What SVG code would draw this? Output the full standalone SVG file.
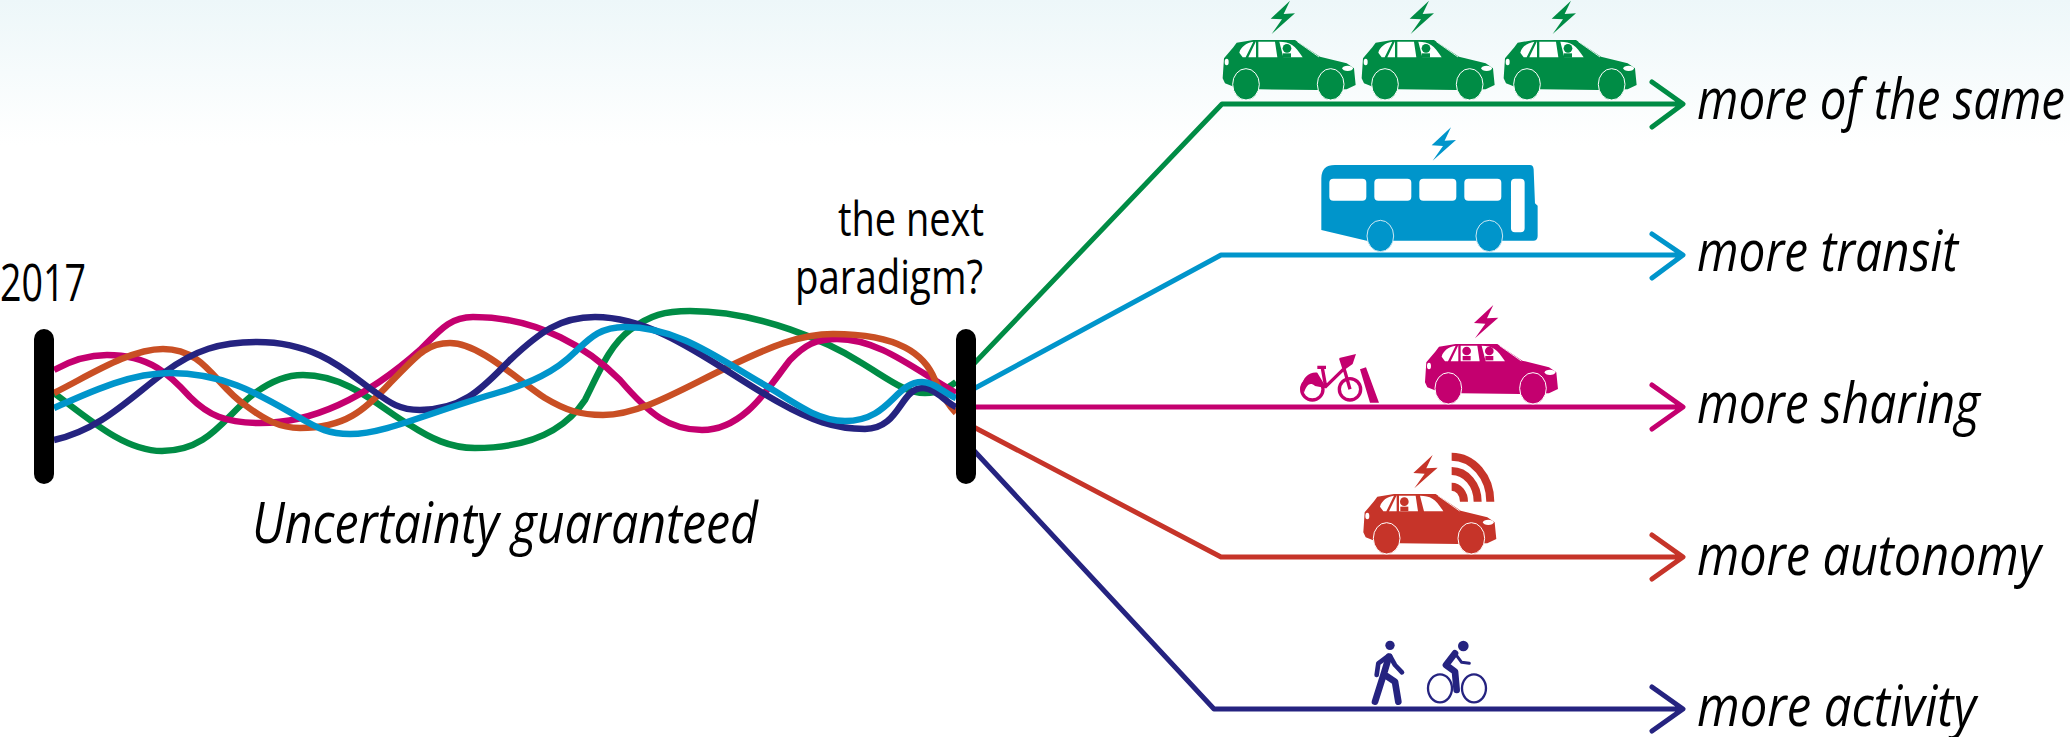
<svg xmlns="http://www.w3.org/2000/svg" width="2070" height="737" viewBox="0 0 2070 737">
<style>
.t{font-family:"Open Sans","Noto Sans","Liberation Sans",sans-serif;font-size:48px;fill:#000;font-weight:400}
.i{font-style:italic;font-size:56px;font-weight:400}
.w{fill:none;stroke-width:6.5;stroke-linejoin:round}
.c{fill:none;stroke-width:5;stroke-linejoin:round;stroke-linecap:round}
.bar{fill:#000}
</style>
<defs>
<linearGradient id="bg" x1="0" y1="0" x2="0" y2="1"><stop offset="0" stop-color="#edf7f9"/><stop offset="1" stop-color="#fff"/></linearGradient>
<path id="bolt" d="M270 2L212 56L246 58L215 102L285 40L251 42Z" fill="currentColor"/>
<g id="car">
<path fill="currentColor" d="M68 235L72 175L100 142L110 128L160 120L285 120L360 170L440 190L462 205L467 255L440 268L352 270L178 268L120 268L75 250Z"/>
<path fill="#fff" d="M118 158C122 140 140 128 160 125L137 172L128 172ZM145 172L168 124L168 172ZM175 125L225 125L232 172L175 172ZM238 125C270 125 285 135 308 172L250 172Z"/>
<path fill="none" stroke="#fff" stroke-width="2.5" d="M292 125L357 171"/>
<ellipse cx="443" cy="205" rx="16" ry="8" fill="#fff"/>
<ellipse cx="80" cy="186" rx="6" ry="10" fill="#fff"/>
<ellipse cx="138" cy="253" rx="40" ry="47" fill="currentColor" stroke="#fff" stroke-width="3"/>
<ellipse cx="392" cy="253" rx="40" ry="47" fill="currentColor" stroke="#fff" stroke-width="3"/>
</g>
<g id="head"><circle cx="0" cy="0" r="13" fill="currentColor"/><rect x="-12" y="15" width="24" height="13" fill="currentColor"/></g>
</defs>
<rect id="background" width="2070" height="145" fill="url(#bg)"/>
<g id="connectors">
<g id="strands">
<path class="w" stroke="#008c45" d="M54 393C90 420 125 451 162 451C210 451 225 415 255 393C270 382 285 375 303 375C350 375 385 412 410 425C430 438 450 448 475 448C530 448 565 430 585 400C600 370 610 345 630 330C650 315 665 311 690 311C760 311 830 343 860 362C890 380 905 393 925 393C940 393 948 388 956 382"/>
<path class="w" stroke="#c4006f" d="M54 370C70 361 88 355 107 355C150 355 170 375 190 397C208 415 225 423 260 423C320 423 375 390 420 350C440 330 450 317 473 317C540 317 590 350 620 380C650 415 670 430 702 430C745 430 770 385 790 360C805 345 815 339 837 339C880 339 915 370 956 393"/>
<path class="w" stroke="#c94f24" d="M54 393C90 375 130 349 163 349C205 349 215 385 245 405C265 420 280 428 300 428C345 428 365 410 390 383C415 358 425 343 450 343C480 343 520 382 545 398C565 410 580 415 603 415C640 415 680 390 730 366C770 347 800 334 833 334C900 334 925 355 935 380C942 395 948 405 956 413"/>
<path class="w" stroke="#252380" d="M54 440C100 430 130 398 165 372C195 350 220 342 257 342C320 342 350 375 375 392C390 403 400 410 420 410C465 410 485 385 510 360C540 332 560 317 595 317C660 317 720 370 780 403C810 420 835 429 865 429C900 429 900 388 923 388C935 388 945 402 956 407"/>
<path class="w" stroke="#0095cb" d="M54 408C90 392 130 373 170 373C225 373 260 395 295 415C320 430 330 434 350 434C385 434 430 412 500 392C530 383 555 372 575 352C590 338 600 327 625 327C680 327 720 360 770 388C800 407 820 421 845 421C890 421 895 382 922 382C935 382 945 394 956 398"/>
</g>
<g id="branches">
<path class="c" stroke="#008c45" d="M966 372L1222 104H1681M1652 82L1683 104L1652 127"/>
<path class="c" stroke="#0095cb" d="M966 393L1221 255H1681M1652 234L1683 255L1652 278"/>
<path class="c" stroke="#c4006f" d="M966 407H1681M1652 385L1683 407L1652 429"/>
<path class="c" stroke="#c63429" d="M966 423L1221 557H1681M1652 535L1683 557L1652 579"/>
<path class="c" stroke="#252380" d="M966 442L1214 709H1681M1652 687L1683 709L1652 731"/>
</g>
</g>
<g id="bar-2017"><rect class="bar" x="34" y="329" width="20" height="155" rx="10"/></g>
<g id="bar-next"><rect class="bar" x="956" y="329" width="20" height="155" rx="10"/></g>
<g id="label-2017"><text class="t" x="0" y="301" font-size="52" style="font-size:52px" textLength="86" lengthAdjust="spacingAndGlyphs">2017</text></g>
<g id="label-next"><text class="t" x="838" y="236" textLength="146" lengthAdjust="spacingAndGlyphs">the next</text><text class="t" x="795" y="294" textLength="188" lengthAdjust="spacingAndGlyphs">paradigm?</text></g>
<g id="label-uncertainty"><text class="t i" x="252" y="543" textLength="506" lengthAdjust="spacingAndGlyphs">Uncertainty guaranteed</text></g>
<g id="same" color="#008c45">
<g transform="translate(1200 0) scale(.3333)"><use href="#bolt"/><use href="#car"/><use href="#head" transform="translate(261 145)"/></g>
<g transform="translate(1339 0) scale(.3333)"><use href="#bolt"/><use href="#car"/><use href="#head" transform="translate(261 145)"/></g>
<g transform="translate(1481 0) scale(.3333)"><use href="#bolt"/><use href="#car"/><use href="#head" transform="translate(261 145)"/></g>
<text class="t i" x="1697" y="119" textLength="368" lengthAdjust="spacingAndGlyphs">more of the same</text>
</g>
<g id="transit" color="#0095cb">
<g transform="translate(1300 110) scale(.3333)">
<path fill="currentColor" fill-rule="evenodd" d="M64 360L64 205Q64 165 105 165L690 165Q700 165 701 178L705 280L713 287L713 378Q713 392 700 392L200 392ZM100 206Q88 206 88 218L88 260Q88 272 100 272L187 272Q199 272 199 260L199 218Q199 206 187 206ZM235 206Q223 206 223 218L223 260Q223 272 235 272L322 272Q334 272 334 260L334 218Q334 206 322 206ZM370 206Q358 206 358 218L358 260Q358 272 370 272L457 272Q469 272 469 260L469 218Q469 206 457 206ZM505 206Q493 206 493 218L493 260Q493 272 505 272L592 272Q604 272 604 260L604 218Q604 206 592 206ZM645 206Q633 206 633 218L633 355Q633 367 645 367L662 367Q674 367 674 355L674 218Q674 206 662 206Z"/>
<ellipse cx="241" cy="378" rx="40" ry="47" fill="currentColor" stroke="#cfe9f3" stroke-width="3"/>
<ellipse cx="568" cy="378" rx="40" ry="47" fill="currentColor" stroke="#cfe9f3" stroke-width="3"/>
<use href="#bolt" transform="translate(183 50)"/>
</g>
<text class="t i" x="1697" y="271" textLength="261" lengthAdjust="spacingAndGlyphs">more transit</text>
</g>
<g id="sharing" color="#c4006f">
<g transform="translate(1280 290) scale(.3333)">
<g transform="translate(367 42)"><use href="#bolt" transform="translate(3 1)"/><use href="#car"/><use href="#head" transform="translate(193 141)"/><use href="#head" transform="translate(261 141)"/></g>
<g fill="none" stroke="currentColor" stroke-width="10" stroke-linejoin="round">
<circle cx="97" cy="298" r="32"/><circle cx="210" cy="298" r="32"/>
<path d="M127 234L137 290L190 238M112 232H138M182 205L195 245L210 298" />
</g>
<path fill="currentColor" d="M66 295C66 260 90 245 112 248L140 295L105 288C90 275 80 285 72 308ZM178 204L228 192L218 222L196 238ZM240 238L258 232L297 338L270 338Z"/>
</g>
<text class="t i" x="1697" y="423" textLength="283" lengthAdjust="spacingAndGlyphs">more sharing</text>
</g>
<g id="autonomy" color="#c63429">
<g transform="translate(1340 440) scale(.3333)">
<g transform="translate(2 42)"><use href="#car"/><use href="#head" transform="translate(191 143)"/></g>
<use href="#bolt" transform="translate(8 43)"/>
<g fill="none" stroke="currentColor" stroke-width="24"><path d="M335 140A37 45 0 0 1 372 185M335 93A78 92 0 0 1 413 185M335 50A116 135 0 0 1 451 185"/></g>
</g>
<text class="t i" x="1697" y="575" textLength="344" lengthAdjust="spacingAndGlyphs">more autonomy</text>
</g>
<g id="activity" color="#252380">
<g transform="translate(1340 630) scale(.3333)">
<g fill="currentColor"><circle cx="150" cy="46" r="14"/><circle cx="370" cy="48" r="16"/></g>
<g fill="none" stroke="currentColor" stroke-linecap="round" stroke-linejoin="round">
<path stroke-width="14" d="M145 78L115 100L110 135M150 78L165 105L186 127"/>
<path stroke-width="20" d="M147 80L132 130L105 215M135 135L165 155L175 215"/>
<ellipse cx="300" cy="175" rx="36" ry="42" stroke-width="7"/><ellipse cx="402" cy="175" rx="36" ry="42" stroke-width="7"/>
<path stroke-width="20" d="M345 70L318 105L345 125L350 180"/>
<path stroke-width="9" d="M345 70L365 97L388 100"/>
</g>
</g>
<text class="t i" x="1697" y="726" textLength="279" lengthAdjust="spacingAndGlyphs">more activity</text>
</g>
</svg>
